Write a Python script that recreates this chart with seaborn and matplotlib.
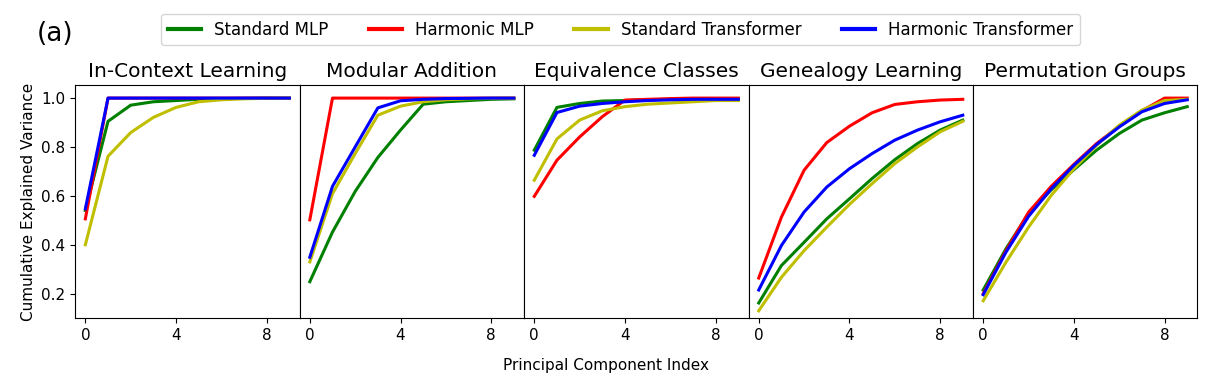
import numpy as np
import pandas as pd
import seaborn as sns
import matplotlib.pyplot as plt

# data
components = list(range(10))
tasks = ['In-Context Learning', 'Modular Addition', 'Equivalence Classes',
         'Genealogy Learning', 'Permutation Groups']
models = ['Standard MLP', 'Harmonic MLP', 'Standard Transformer', 'Harmonic Transformer']
colors = ['g', 'r', 'y', 'b']

icl_std_mlp = [0.54, 0.905, 0.971, 0.985, 0.99, 0.995, 0.998, 0.999, 1.0, 1.0]
icl_har_mlp = [0.506, 1.0, 1.0, 1.0, 1.0, 1.0, 1.0, 1.0, 1.0, 1.0]
icl_std_tf = [0.40, 0.762, 0.859, 0.921, 0.962, 0.985, 0.993, 0.997, 0.999, 1.0]
icl_har_tf = [0.547, 1.0, 1.0, 1.0, 1.0, 1.0, 1.0, 1.0, 1.0, 1.0]

mod_std_mlp = [0.249, 0.452, 0.618, 0.757, 0.869, 0.975, 0.985, 0.99, 0.995, 0.997]
mod_har_mlp = [0.502, 1.0, 1.0, 1.0, 1.0, 1.0, 1.0, 1.0, 1.0, 1.0]
mod_std_tf = [0.33, 0.609, 0.773, 0.93, 0.967, 0.985, 0.993, 0.997, 0.999, 1.0]
mod_har_tf = [0.349, 0.639, 0.80, 0.96, 0.989, 0.995, 0.998, 0.999, 1.0, 1.0]

eq_std_mlp = [0.787, 0.962, 0.978, 0.988, 0.99, 0.993, 0.995, 0.996, 0.997, 0.997]
eq_har_mlp = [0.598, 0.746, 0.841, 0.924, 0.992, 0.995, 0.998, 1.0, 1.0, 1.0]
eq_std_tf = [0.664, 0.833, 0.91, 0.948, 0.965, 0.975, 0.98, 0.985, 0.99, 0.99]
eq_har_tf = [0.766, 0.941, 0.967, 0.978, 0.985, 0.99, 0.993, 0.995, 0.995, 0.995]

gen_std_mlp = [0.162, 0.315, 0.41, 0.506, 0.588, 0.671, 0.748, 0.814, 0.869, 0.91]
gen_har_mlp = [0.264, 0.513, 0.705, 0.818, 0.885, 0.94, 0.974, 0.985, 0.992, 0.995]
gen_std_tf = [0.13, 0.267, 0.376, 0.472, 0.565, 0.65, 0.732, 0.80, 0.862, 0.905]
gen_har_tf = [0.215, 0.397, 0.534, 0.636, 0.711, 0.773, 0.828, 0.869, 0.903, 0.93]

perm_std_mlp = [0.215, 0.383, 0.527, 0.625, 0.707, 0.787, 0.855, 0.91, 0.94, 0.965]
perm_har_mlp = [0.20, 0.375, 0.533, 0.639, 0.729, 0.814, 0.885, 0.948, 1.0, 1.0]
perm_std_tf = [0.171, 0.328, 0.472, 0.602, 0.711, 0.807, 0.889, 0.951, 0.99, 0.995]
perm_har_tf = [0.196, 0.369, 0.516, 0.629, 0.725, 0.81, 0.882, 0.944, 0.978, 0.993]

series = {
    'In-Context Learning': [icl_std_mlp, icl_har_mlp, icl_std_tf, icl_har_tf],
    'Modular Addition': [mod_std_mlp, mod_har_mlp, mod_std_tf, mod_har_tf],
    'Equivalence Classes': [eq_std_mlp, eq_har_mlp, eq_std_tf, eq_har_tf],
    'Genealogy Learning': [gen_std_mlp, gen_har_mlp, gen_std_tf, gen_har_tf],
    'Permutation Groups': [perm_std_mlp, perm_har_mlp, perm_std_tf, perm_har_tf],
}

rows = []
for task in tasks:
    for model, vals in zip(models, series[task]):
        for i, v in zip(components, vals):
            rows.append({'task': task, 'model': model, 'pc': i, 'var': v})
df = pd.DataFrame(rows)

fig, axes = plt.subplots(1, 5, figsize=(12.12, 3.87), dpi=100, sharey=True)
fig.subplots_adjust(left=0.062, right=0.988, top=0.78, bottom=0.178, wspace=0)

for k, (ax, task) in enumerate(zip(axes, tasks)):
    sns.lineplot(data=df[df.task == task], x='pc', y='var', hue='model',
                 hue_order=models, palette=colors, linewidth=2.2,
                 legend=False, ax=ax)
    ax.set_title(task, fontsize=14.5)
    ax.set_xticks([0, 4, 8])
    ax.set_xlabel('')
    ax.set_ylabel('')
    ax.tick_params(labelsize=11)
    if k > 0:
        ax.tick_params(left=False)

axes[0].set_ylim(0.1, 1.053)
axes[0].set_yticks([0.2, 0.4, 0.6, 0.8, 1.0])
axes[0].set_ylabel('Cumulative Explained Variance', fontsize=11)
fig.supxlabel('Principal Component Index', fontsize=11, y=0.035)

handles = [plt.Line2D([], [], color=c, lw=3) for c in colors]
fig.legend(handles, models, loc='upper center', ncol=4, fontsize=12,
           bbox_to_anchor=(0.512, 0.985), handlelength=2.0, columnspacing=2.4)
fig.text(0.03, 0.895, '(a)', fontsize=19)

plt.savefig('out.png', dpi=100)
